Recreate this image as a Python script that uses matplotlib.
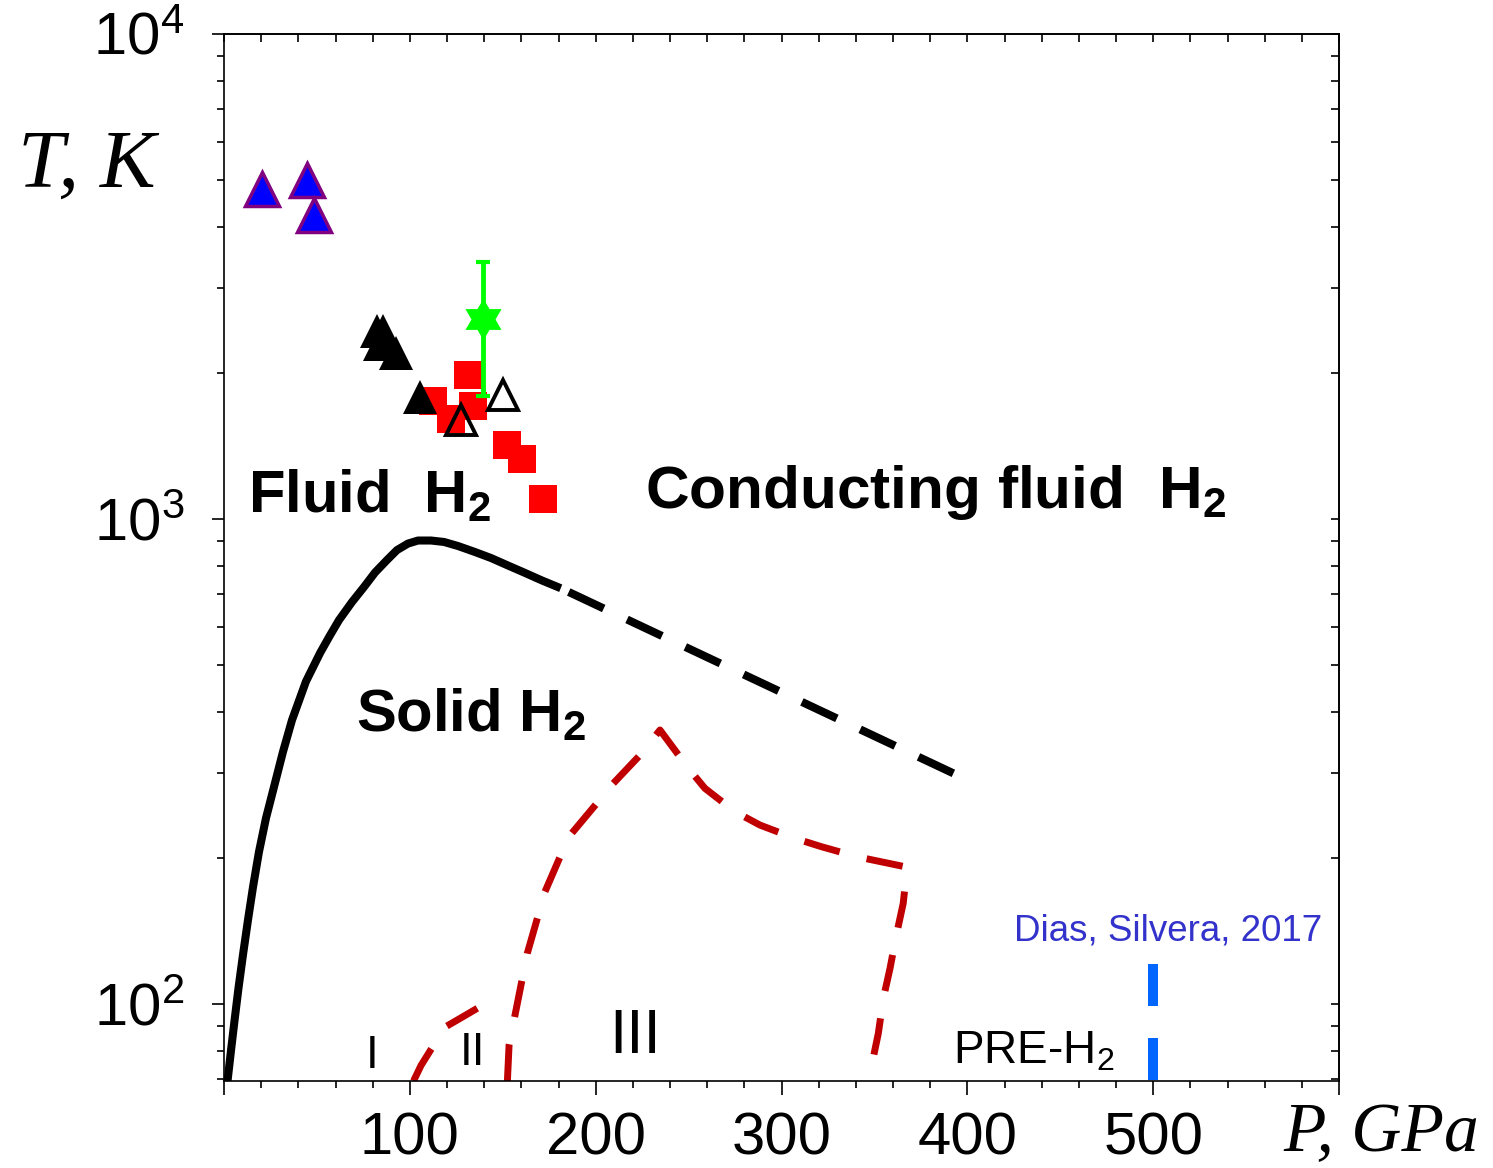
import numpy as np
import matplotlib
matplotlib.use('Agg')
import matplotlib.pyplot as plt
from matplotlib.ticker import FixedLocator, FixedFormatter, MultipleLocator, LogLocator, NullFormatter, NullLocator

plt.rcParams['font.family'] = ['Liberation Sans', 'DejaVu Sans']
plt.rcParams['mathtext.default'] = 'regular'

# melting curve (solid part and dashed extrapolation), P in GPa, T in K
melt_P = [1.9, 3.8, 5.7, 7.8, 10.2, 12.9, 15.6, 18.8, 22.6, 26.9, 31.7, 36.6, 44.1, 51.7, 57.0, 61.9, 68.9, 75.3,
          81.3, 87.7, 93.1, 99.0, 104.4, 111.4, 118.4, 125.9, 135.1, 143.7, 152.8, 161.4, 171.1, 181.2]
melt_T = [69.4, 80.4, 92.7, 107.9, 126.2, 149, 174.2, 205.8, 241.8, 280.3, 330.8, 385.1, 462.4, 529.4, 575.2, 619,
          674.5, 724, 776, 823, 863, 890, 903, 903, 896.8, 879.8, 855, 831, 802, 776, 747, 720]
melt_ext_P = [181.2, 392.5]
melt_ext_T = [720, 299]

# phase I / II boundary
b12_P = [102, 106, 111.2, 119.3, 127, 136.3]
b12_T = [69.4, 74.7, 80.4, 89.8, 93.4, 98.0]

# phase III boundary
b3_P = [152.5, 153.4, 163.2, 168.6, 172.7, 180.8, 187.1, 200.6, 209.5, 223.9, 234.6, 237.3, 249.9, 258.8,
        275.0, 288.4, 307.2, 321.6, 341.3, 366.5, 367.4, 365.5, 362.0, 358.4, 354.8, 352.1, 346.7]
b3_T = [69.4, 82.3, 127.2, 150.2, 170.4, 201, 224.9, 259.3, 285.1, 326.1, 367.3, 355.7, 306.2, 278.4,
        249.2, 233.9, 219.6, 211.0, 201, 191.9, 188.9, 161.3, 139.9, 118.5, 102.7, 87.0, 69.2]

# Dias, Silvera 2017
ds_P = [500, 500]
ds_T = [121, 69.4]

# experimental points
blue_P = [20.3, 44.5, 48.3]
blue_T = [4780, 5000, 4240]

black_P = [82.2, 85.4, 84.0, 92.6, 105.7]
black_T = [2442, 2442, 2298, 2196, 1784]

open_P = [127.4, 150.3]
open_T = [1598, 1802]

red_P = [131.2, 112.7, 122.0, 134.2, 152.3, 160.4, 171.5]
red_T = [1981, 1753, 1607, 1712, 1421, 1330, 1101]

star_P = [139.6]
star_T = [2590]
star_err = [800]

xtick_vals = [0, 100, 200, 300, 400, 500, 600]
xtick_labels = ['', '100', '200', '300', '400', '500', '']
ytick_vals = [100, 1000, 10000]
ytick_labels = ['$10^{2}$', '$10^{3}$', '$10^{4}$']

fig = plt.figure(figsize=(14.93, 11.68), dpi=100)
ax = fig.add_axes([224 / 1493, 87 / 1168, 1115 / 1493, 1047 / 1168])

ax.set_yscale('log')
ax.set_xlim(0, 600)
ax.set_ylim(69.4, 10000)

# lines
ax.plot(melt_P, melt_T, color='black', lw=5.8, solid_capstyle='butt', solid_joinstyle='round', zorder=2)
ax.plot(melt_ext_P, melt_ext_T, color='black', lw=5.8, ls=(6.9, (4.8, 3.2)), zorder=2)
ax.plot(b12_P, b12_T, color='#c00000', lw=5, dashes=(5.3, 4), zorder=2)
ax.plot(b3_P, b3_T, color='#c00000', lw=5, dashes=(5.3, 4), zorder=2)
ax.plot(ds_P, ds_T, color='#0066ff', lw=7.2, dashes=(4.2, 3.2), zorder=2)

# points
ax.plot(red_P, red_T, 's', color='#ff0000', ms=20, mew=0, zorder=3)
ax.plot(black_P, black_T, '^', color='black', ms=24, mew=0, zorder=4)
ax.plot(open_P, open_T, '^', mfc='none', mec='black', ms=21, mew=2.8, zorder=4)
ax.plot(blue_P, blue_T, '^', mfc='#0000ff', mec='#800080', ms=25, mew=2.5, zorder=4)

# six-pointed star marker
ang = np.deg2rad(90 + 30 * np.arange(12))
rad = np.where(np.arange(12) % 2 == 0, 1.0, 0.577)
star = list(zip(rad * np.cos(ang), rad * np.sin(ang)))
ax.errorbar(star_P, star_T, yerr=star_err, fmt='none', ecolor='#00ff00', elinewidth=3.5,
            capsize=5, capthick=3, zorder=5)
ax.plot(star_P, star_T, marker=star, ls='none', color='#00ff00', ms=30, mew=0, zorder=6)

# labels on the diagram
ax.text(12.9, 1029, 'Fluid  H$_2$', fontsize=43, fontweight='bold', ha='left', va='baseline')
ax.text(226.5, 1054, 'Conducting fluid  H$_2$', fontsize=43.5, fontweight='bold', ha='left', va='baseline')
ax.text(71.0, 364, 'Solid H$_2$', fontsize=43, fontweight='bold', ha='left', va='baseline')
ax.text(79.7, 73.7, 'I', fontsize=33, ha='center', va='baseline')
ax.text(133.5, 74.9, 'II', fontsize=33, ha='center', va='baseline')
ax.text(221.4, 79.1, 'III', fontsize=45, ha='center', va='baseline')
ax.text(392.3, 75.5, 'PRE-H$_2$', fontsize=33, ha='left', va='baseline')
ax.text(590.9, 135.5, 'Dias, Silvera, 2017', fontsize=26.5, color='#3333cc', ha='right', va='baseline')

# ticks
ax.xaxis.set_major_locator(FixedLocator(xtick_vals))
ax.xaxis.set_major_formatter(FixedFormatter(xtick_labels))
ax.xaxis.set_minor_locator(MultipleLocator(20))
ax.yaxis.set_major_locator(FixedLocator(ytick_vals))
ax.yaxis.set_major_formatter(FixedFormatter(ytick_labels))
ax.yaxis.set_minor_locator(LogLocator(base=10, subs=np.arange(2, 10)))
ax.yaxis.set_minor_formatter(NullFormatter())

ax.tick_params(which='both', direction='out', top=False, right=False, width=1.2, labelsize=43)
ax.tick_params(axis='x', which='major', length=10, pad=12)
ax.tick_params(axis='y', which='major', length=8.6, pad=20)
ax.tick_params(which='minor', length=5)
for s in ax.spines.values():
    s.set_linewidth(1.2)

sec_x = ax.secondary_xaxis('top')
sec_x.xaxis.set_major_locator(MultipleLocator(20))
sec_x.xaxis.set_major_formatter(NullFormatter())
sec_x.tick_params(direction='in', length=5.5, width=1.2)
sec_x.spines['top'].set_linewidth(1.2)

sec_y = ax.secondary_yaxis('right')
sec_y.yaxis.set_major_locator(LogLocator(base=10, subs=np.arange(1, 10)))
sec_y.yaxis.set_minor_locator(NullLocator())
sec_y.yaxis.set_major_formatter(NullFormatter())
sec_y.tick_params(direction='in', length=5.5, width=1.2)
sec_y.spines['right'].set_linewidth(1.2)

# axis titles
fig.text(18 / 1493, 1 - 187 / 1168, 'T, K', family='Liberation Serif', style='italic',
         fontsize=60, ha='left', va='baseline')
fig.text(1283 / 1493, 1 - 1151 / 1168, 'P, GPa', family='Liberation Serif', style='italic',
         fontsize=50, ha='left', va='baseline')

fig.savefig('out.png', dpi=100)
